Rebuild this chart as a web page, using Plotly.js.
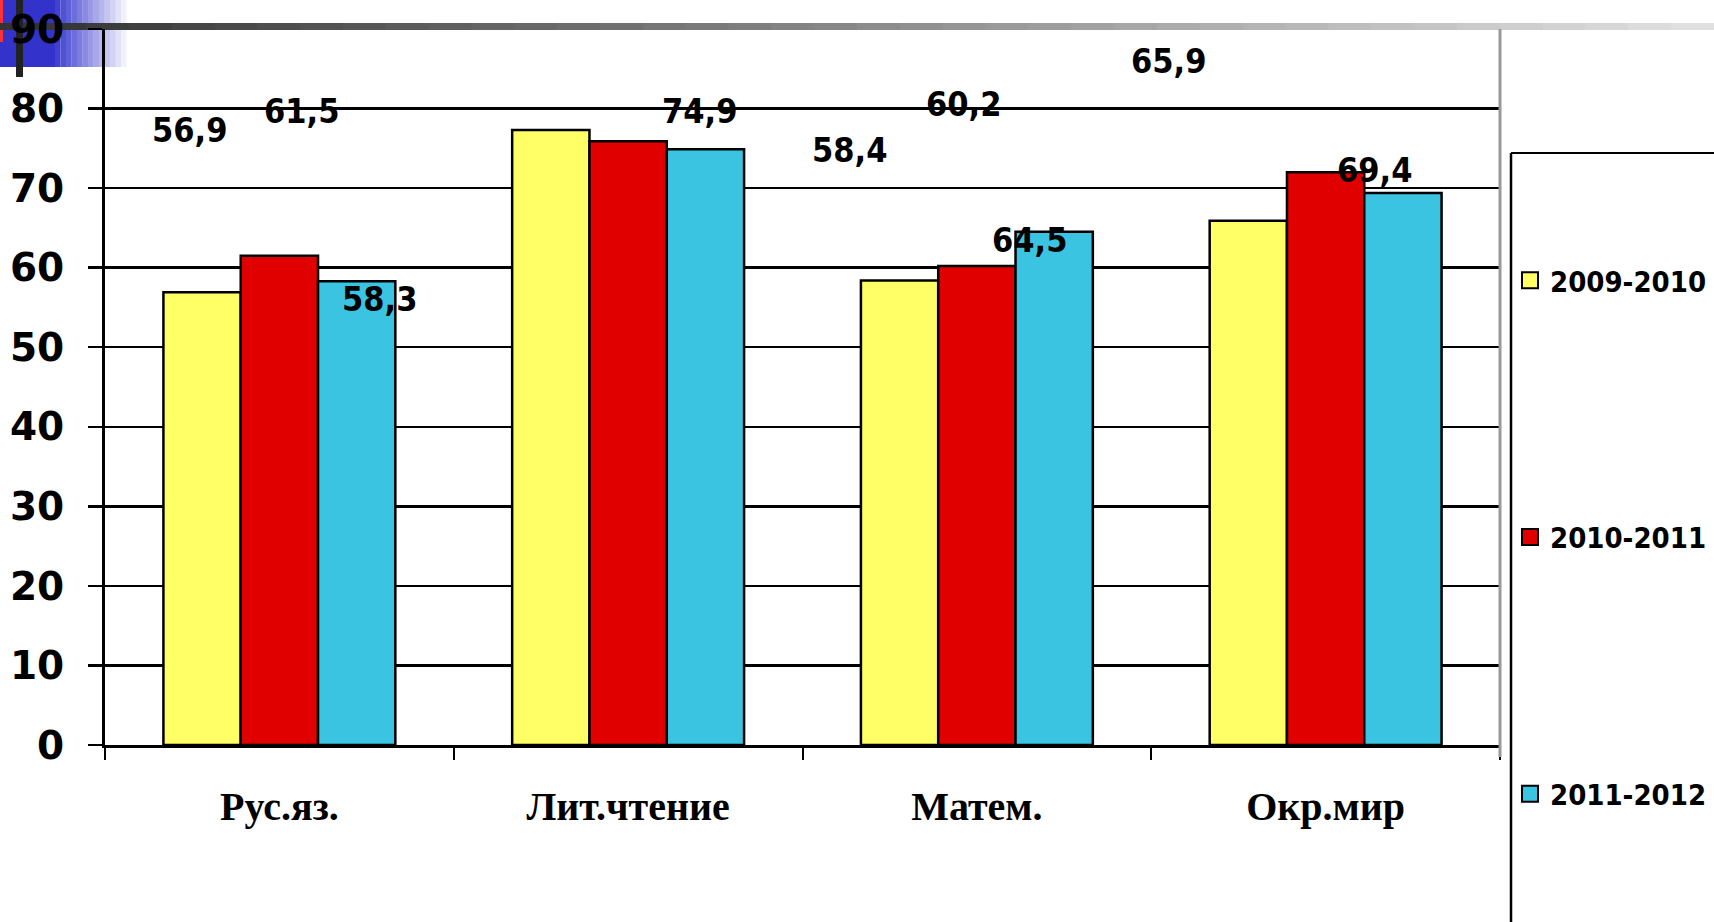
<!DOCTYPE html>
<html>
<head>
<meta charset="utf-8">
<script src="https://cdn.plot.ly/plotly-3.0.1.min.js"></script>
<style>html,body{margin:0;padding:0;background:#fff;}#chart{width:1714px;height:922px;}</style>
</head>
<body>
<div id="chart"></div>
<script>
// ---- data ----
const categories = ["Рус.яз.", "Лит.чтение", "Матем.", "Окр.мир"];
const seriesNames = ["2009-2010", "2010-2011", "2011-2012"];
const values2009 = [56.9, 77.3, 58.4, 65.9];
const values2010 = [61.5, 75.9, 60.2, 72.0];
const values2011 = [58.3, 74.9, 64.5, 69.4];
const yTicks = [0, 10, 20, 30, 40, 50, 60, 70, 80, 90];
// which data labels are visible in the original (true = shown)
const shown2009 = [true, false, true, true];
const shown2010 = [true, false, true, false];
const shown2011 = [true, true, true, true];

// ---- styles / positions (not data) ----
const colors = ["#FFFF66", "#E00000", "#3BC4E2"];
// label placement offsets (category units, value units) as seen in original
const labelOffsets = [
  [[-0.259, 20.4], null, [-0.364, 16.4], [-0.450, 20.1]],
  [[0.064, 18.2], null, [-0.038, 20.4], null],
  [[0.286, -2.2], [0.204, 4.8], [0.150, -1.0], [0.139, 2.9]]
];

const W = 1714, H = 922;
const L = 105, R = 214, T = 29, B = 177;
const pw = W - L - R, ph = H - T - B;
const px = x => (x - L) / pw;
const py = y => (H - B - y) / ph;

const allValues = [values2009, values2010, values2011];
const allShown = [shown2009, shown2010, shown2011];

const traces = allValues.map((vals, s) => ({
  type: "bar",
  name: seriesNames[s],
  x: categories,
  y: vals,
  showlegend: false,
  marker: { color: colors[s], line: { color: "#000", width: 2.5 } },
  hoverinfo: "x+y+name"
}));
// legend entries (square swatches)
seriesNames.forEach((n, s) => {
  traces.push({
    type: "scatter", mode: "markers", name: n, x: [null], y: [null],
    legendgroup: "g" + s, showlegend: true,
    marker: { symbol: "square", size: 16, color: colors[s], line: { color: "#000", width: 2 } }
  });
});

const annotations = [];
allValues.forEach((vals, s) => {
  vals.forEach((v, i) => {
    if (!allShown[s][i]) return;
    const off = labelOffsets[s][i];
    annotations.push({
      x: i + off[0], y: v + off[1], xref: "x", yref: "y",
      text: v.toFixed(1).replace(".", ","),
      showarrow: false,
      font: { family: "DejaVu Sans Condensed, DejaVu Sans, sans-serif", size: 34, weight: "bold", color: "#000" }
    });
  });
});

const shapes = [];
// blue gradient block top-left
const blueSteps = 14;
for (let k = 0; k < blueSteps; k++) {
  const x0 = k === 0 ? 0 : 55 + (k - 1) * 5.5;
  const x1 = 55 + k * 5.5;
  shapes.push({ type: "rect", xref: "paper", yref: "paper", x0: px(x0), x1: px(x1), y0: py(67), y1: py(0),
    fillcolor: "rgba(51,51,204," + (1 - k / blueSteps).toFixed(3) + ")", line: { width: 0 }, layer: "below" });
}
shapes.push({ type: "rect", xref: "paper", yref: "paper", x0: px(0), x1: px(3), y0: py(42), y1: py(0), fillcolor: "#ff3333", line: { width: 0 }, layer: "below" });
// gray gradient bar at the top
const graySteps = 40;
for (let k = 0; k < graySteps; k++) {
  const c = Math.round(0x33 + (0xe0 - 0x33) * k / (graySteps - 1));
  const col = "rgb(" + c + "," + c + "," + c + ")";
  shapes.push({ type: "rect", xref: "paper", yref: "paper", x0: px(k * W / graySteps), x1: px((k + 1) * W / graySteps + 1),
    y0: py(30), y1: py(23), fillcolor: col, line: { width: 0 }, layer: "below" });
}
// dark vertical stroke top-left
shapes.push({ type: "rect", xref: "paper", yref: "paper", x0: px(16), x1: px(23), y0: py(77), y1: py(0), fillcolor: "#222", line: { width: 0 }, layer: "below" });
// right border of plot (gray)
shapes.push({ type: "line", xref: "paper", yref: "paper", x0: px(1500), x1: px(1500), y0: py(757), y1: py(29), line: { color: "#999", width: 3 } });
// legend frame lines
shapes.push({ type: "line", xref: "paper", yref: "paper", x0: px(1511), x1: px(1511), y0: py(922), y1: py(153), line: { color: "#000", width: 2.5 } });
shapes.push({ type: "line", xref: "paper", yref: "paper", x0: px(1511), x1: px(1714), y0: py(153), y1: py(153), line: { color: "#000", width: 2 } });

const layout = {
  width: W, height: H,
  margin: { l: L, r: R, t: T, b: B, pad: 0, autoexpand: false },
  paper_bgcolor: "#fff", plot_bgcolor: "rgba(0,0,0,0)",
  barmode: "group",
  bargap: 0.335, bargroupgap: 0,
  showlegend: true,
  legend: {
    x: px(1510), y: py(255), xanchor: "left", yanchor: "top",
    font: { family: "DejaVu Sans Condensed, DejaVu Sans, sans-serif", size: 29, weight: "bold", color: "#000" },
    tracegroupgap: 216, bgcolor: "rgba(0,0,0,0)", borderwidth: 0, itemwidth: 30
  },
  xaxis: {
    type: "category",
    tickson: "boundaries",
    ticks: "outside", ticklen: 12, tickwidth: 2, tickcolor: "#000",
    showline: true, linecolor: "#000", linewidth: 3,
    showgrid: false,
    ticklabelstandoff: 24,
    tickfont: { family: "Liberation Serif, serif", size: 40, weight: "bold", color: "#000" }
  },
  yaxis: {
    range: [0, 90],
    tickvals: yTicks,
    ticks: "outside", ticklen: 14, tickwidth: 2.5, tickcolor: "#000",
    showline: true, linecolor: "#000", linewidth: 3,
    showgrid: true, gridcolor: "#000", gridwidth: 2.5,
    zeroline: false,
    ticklabelstandoff: 16,
    tickfont: { family: "DejaVu Sans, sans-serif", size: 39, weight: "bold", color: "#000" }
  },
  annotations: annotations,
  shapes: shapes
};

Plotly.newPlot("chart", traces, layout, { displayModeBar: false, staticPlot: true });
</script>
</body>
</html>
